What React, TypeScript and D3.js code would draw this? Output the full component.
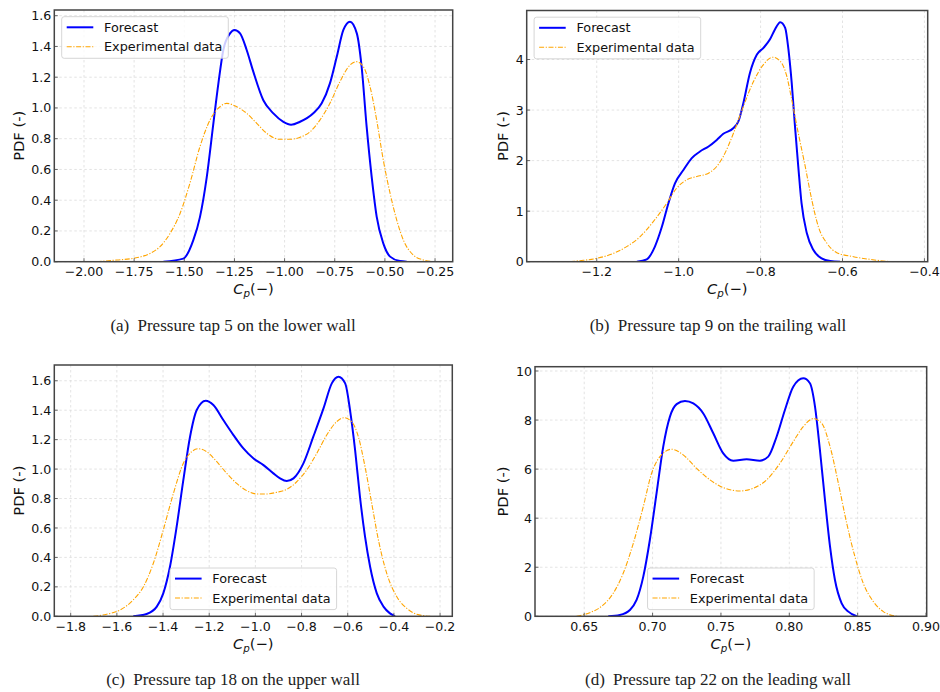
import React, { useEffect, useRef } from 'react';
import * as d3 from 'd3';

// ==== values: Cp on x, PDF on y

// (a) tap 5, lower wall
const tap5ForecastCp = [-1.604, -1.505, -1.455, -1.422, -1.388, -1.355, -1.33, -1.305, -1.272, -1.25, -1.222, -1.189, -1.156, -1.106, -1.056, -1.006, -0.968, -0.923, -0.857, -0.815, -0.774, -0.74, -0.707, -0.674, -0.64, -0.616, -0.591, -0.566, -0.541, -0.508, -0.474, -0.425, -0.391];
const tap5ForecastPdf = [0, 0.02, 0.14, 0.29, 0.55, 0.9, 1.16, 1.38, 1.485, 1.507, 1.485, 1.377, 1.236, 1.05, 0.965, 0.91, 0.891, 0.91, 0.965, 1.03, 1.16, 1.333, 1.507, 1.561, 1.485, 1.268, 0.878, 0.553, 0.293, 0.119, 0.033, 0.004, 0];
const tap5ExperimentCp = [-1.937, -1.837, -1.754, -1.671, -1.621, -1.571, -1.521, -1.472, -1.422, -1.372, -1.322, -1.289, -1.239, -1.189, -1.139, -1.089, -1.023, -0.973, -0.923, -0.873, -0.824, -0.774, -0.724, -0.674, -0.64, -0.607, -0.574, -0.541, -0.508, -0.474, -0.441, -0.408, -0.358, -0.308, -0.258];
const tap5ExperimentPdf = [0, 0.011, 0.022, 0.054, 0.098, 0.184, 0.314, 0.51, 0.748, 0.921, 1.008, 1.03, 1.008, 0.965, 0.9, 0.835, 0.796, 0.796, 0.809, 0.845, 0.921, 1.03, 1.171, 1.279, 1.301, 1.268, 1.138, 0.921, 0.661, 0.444, 0.271, 0.141, 0.043, 0.011, 0];

// (b) tap 9, trailing wall
const tap9ForecastCp = [-1.102, -1.078, -1.058, -1.041, -1.025, -1.009, -0.988, -0.968, -0.948, -0.927, -0.907, -0.891, -0.866, -0.854, -0.842, -0.826, -0.809, -0.793, -0.777, -0.765, -0.752, -0.74, -0.732, -0.724, -0.716, -0.708, -0.7, -0.687, -0.671, -0.651, -0.63, -0.606];
const tap9ForecastPdf = [0, 0.046, 0.3, 0.69, 1.157, 1.55, 1.818, 2.05, 2.18, 2.28, 2.41, 2.53, 2.645, 2.78, 3.14, 3.735, 4.1, 4.23, 4.4, 4.595, 4.74, 4.628, 4.2, 3.537, 2.678, 1.884, 1.157, 0.562, 0.231, 0.066, 0.013, 0];
const tap9ExperimentCp = [-1.265, -1.241, -1.2, -1.159, -1.127, -1.094, -1.062, -1.029, -1.005, -0.98, -0.956, -0.927, -0.907, -0.891, -0.866, -0.842, -0.817, -0.793, -0.77, -0.752, -0.736, -0.724, -0.708, -0.691, -0.675, -0.659, -0.638, -0.614, -0.573, -0.533, -0.484];
const tap9ExperimentPdf = [0, 0.02, 0.066, 0.165, 0.298, 0.496, 0.793, 1.157, 1.455, 1.62, 1.686, 1.752, 1.884, 2.083, 2.545, 3.074, 3.57, 3.9, 4.046, 3.967, 3.669, 3.207, 2.545, 1.884, 1.223, 0.694, 0.364, 0.179, 0.099, 0.046, 0];

// (c) tap 18, upper wall
const tap18ForecastCp = [-1.529, -1.471, -1.427, -1.399, -1.37, -1.341, -1.312, -1.283, -1.254, -1.215, -1.182, -1.139, -1.095, -1.052, -1.009, -0.965, -0.922, -0.893, -0.864, -0.835, -0.792, -0.749, -0.705, -0.669, -0.64, -0.611, -0.59, -0.568, -0.547, -0.525, -0.503, -0.474, -0.445, -0.417, -0.395];
const tap18ForecastPdf = [0, 0.016, 0.066, 0.156, 0.337, 0.609, 0.926, 1.22, 1.401, 1.464, 1.435, 1.333, 1.231, 1.14, 1.073, 1.027, 0.971, 0.937, 0.919, 0.937, 1.039, 1.22, 1.412, 1.582, 1.627, 1.582, 1.401, 1.129, 0.812, 0.541, 0.337, 0.156, 0.066, 0.02, 0];
const tap18ExperimentCp = [-1.702, -1.644, -1.586, -1.529, -1.485, -1.442, -1.399, -1.355, -1.312, -1.276, -1.247, -1.211, -1.167, -1.124, -1.081, -1.037, -0.994, -0.951, -0.908, -0.864, -0.821, -0.778, -0.734, -0.691, -0.648, -0.616, -0.583, -0.554, -0.525, -0.496, -0.467, -0.431, -0.388, -0.344, -0.301, -0.243];
const tap18ExperimentPdf = [0, 0.014, 0.043, 0.111, 0.201, 0.36, 0.586, 0.835, 1.039, 1.118, 1.138, 1.118, 1.05, 0.971, 0.903, 0.853, 0.831, 0.831, 0.842, 0.862, 0.914, 0.993, 1.107, 1.231, 1.322, 1.349, 1.322, 1.22, 1.016, 0.767, 0.518, 0.292, 0.134, 0.054, 0.014, 0];

// (d) tap 22, leading wall
const tap22ForecastCp = [0.6676, 0.6761, 0.6834, 0.6883, 0.6932, 0.698, 0.7029, 0.7078, 0.7127, 0.7176, 0.7237, 0.7298, 0.7371, 0.7444, 0.7517, 0.759, 0.7688, 0.7785, 0.7846, 0.7907, 0.7968, 0.8029, 0.8102, 0.8151, 0.8188, 0.8224, 0.8261, 0.8298, 0.8334, 0.8383, 0.8432, 0.8493];
const tap22ForecastPdf = [0, 0.054, 0.258, 0.666, 1.617, 3.11, 5.01, 6.92, 8.14, 8.65, 8.78, 8.68, 8.27, 7.46, 6.64, 6.345, 6.4, 6.345, 6.51, 7.32, 8.41, 9.36, 9.7, 9.5, 8.55, 6.78, 4.74, 2.84, 1.48, 0.53, 0.19, 0];
const tap22ExperimentCp = [0.6444, 0.6541, 0.6639, 0.6712, 0.6785, 0.6859, 0.6932, 0.6993, 0.7054, 0.7139, 0.7224, 0.7322, 0.742, 0.7517, 0.7639, 0.7737, 0.7834, 0.7932, 0.8029, 0.8102, 0.8176, 0.8237, 0.8298, 0.8359, 0.842, 0.848, 0.8541, 0.8615, 0.8688, 0.8785];
const tap22ExperimentPdf = [0, 0.149, 0.462, 0.9375, 1.753, 2.976, 4.47, 5.83, 6.51, 6.81, 6.58, 6.03, 5.56, 5.245, 5.11, 5.22, 5.56, 6.24, 7.12, 7.73, 8.06, 7.87, 6.92, 5.42, 3.79, 2.43, 1.345, 0.6, 0.19, 0];

// tick values
const tap5XTicks = [-2.0, -1.75, -1.5, -1.25, -1.0, -0.75, -0.5, -0.25];
const tap9XTicks = [-1.2, -1.0, -0.8, -0.6, -0.4];
const tap18XTicks = [-1.8, -1.6, -1.4, -1.2, -1.0, -0.8, -0.6, -0.4, -0.2];
const tap22XTicks = [0.65, 0.7, 0.75, 0.8, 0.85, 0.9];
const smallPdfTicks = [0, 0.2, 0.4, 0.6, 0.8, 1.0, 1.2, 1.4, 1.6];
const tap9PdfTicks = [0, 1, 2, 3, 4];
const tap22PdfTicks = [0, 2, 4, 6, 8, 10];

const seriesNames = ['Forecast', 'Experimental data'];

// ====

const FONT = 'DejaVu Sans, sans-serif';
const BLUE = '#0000ff';
const ORANGE = '#ffa500';
const SPINE = '#444444';

const panels = [
    {
        tag: '(a)', caption: 'Pressure tap 5 on the lower wall', captionX: 233, captionY: 331,
        box: [54.3, 10, 452.7, 261.7], xDomain: [-2.148, -0.162], yDomain: [0, 1.637],
        xTicks: tap5XTicks, xFmt: '.2f', yTicks: smallPdfTicks, yFmt: '.1f', legend: 'upper left',
        forecast: [tap5ForecastCp, tap5ForecastPdf], experiment: [tap5ExperimentCp, tap5ExperimentPdf],
    },
    {
        tag: '(b)', caption: 'Pressure tap 9 on the trailing wall', captionX: 718, captionY: 331,
        box: [526.7, 10.5, 927.7, 261.7], xDomain: [-1.371, -0.392], yDomain: [0, 4.97],
        xTicks: tap9XTicks, xFmt: '.1f', yTicks: tap9PdfTicks, yFmt: 'd', legend: 'upper left',
        forecast: [tap9ForecastCp, tap9ForecastPdf], experiment: [tap9ExperimentCp, tap9ExperimentPdf],
    },
    {
        tag: '(c)', caption: 'Pressure tap 18 on the upper wall', captionX: 233, captionY: 685,
        box: [54.3, 365, 452.3, 616.3], xDomain: [-1.871, -0.147], yDomain: [0, 1.707],
        xTicks: tap18XTicks, xFmt: '.1f', yTicks: smallPdfTicks, yFmt: '.1f', legend: 'lower center',
        forecast: [tap18ForecastCp, tap18ForecastPdf], experiment: [tap18ExperimentCp, tap18ExperimentPdf],
    },
    {
        tag: '(d)', caption: 'Pressure tap 22 on the leading wall', captionX: 718, captionY: 685,
        box: [535, 366.7, 926.7, 616.3], xDomain: [0.614, 0.9005], yDomain: [0, 10.175],
        xTicks: tap22XTicks, xFmt: '.2f', yTicks: tap22PdfTicks, yFmt: 'd', legend: 'lower center',
        forecast: [tap22ForecastCp, tap22ForecastPdf], experiment: [tap22ExperimentCp, tap22ExperimentPdf],
    },
];

const minus = (s) => s.replace('-', '\u2212');

function drawPanel(svg, p, i) {
    const [left, top, right, bottom] = p.box;
    const x = d3.scaleLinear().domain(p.xDomain).range([left, right]);
    const y = d3.scaleLinear().domain(p.yDomain).range([bottom, top]);
    const xf = d3.format(p.xFmt);
    const yf = d3.format(p.yFmt);

    const g = svg.append('g');

    // grid
    g.append('g').selectAll('line').data(p.xTicks).enter().append('line')
        .attr('x1', (d) => x(d)).attr('x2', (d) => x(d)).attr('y1', top).attr('y2', bottom)
        .attr('stroke', '#dcdcdc').attr('stroke-width', 0.8).attr('stroke-dasharray', '2.5,2.5');
    g.append('g').selectAll('line').data(p.yTicks).enter().append('line')
        .attr('x1', left).attr('x2', right).attr('y1', (d) => y(d)).attr('y2', (d) => y(d))
        .attr('stroke', '#dcdcdc').attr('stroke-width', 0.8).attr('stroke-dasharray', '2.5,2.5');

    // curves
    const clipId = 'clip' + i;
    g.append('clipPath').attr('id', clipId).append('rect')
        .attr('x', left).attr('y', top).attr('width', right - left).attr('height', bottom - top);

    const line = d3.line().x((d) => x(d[0])).y((d) => y(d[1])).curve(d3.curveMonotoneX);
    const pts = (pair) => pair[0].map((v, k) => [v, pair[1][k]]);

    g.append('path').attr('d', line(pts(p.forecast)))
        .attr('clip-path', `url(#${clipId})`)
        .attr('fill', 'none').attr('stroke', BLUE).attr('stroke-width', 2);
    g.append('path').attr('d', line(pts(p.experiment)))
        .attr('clip-path', `url(#${clipId})`)
        .attr('fill', 'none').attr('stroke', ORANGE).attr('stroke-width', 1.1)
        .attr('stroke-dasharray', '5,1.6,1.2,1.6');

    // ticks (inward) and labels
    g.append('g').selectAll('line').data(p.xTicks).enter().append('line')
        .attr('x1', (d) => x(d)).attr('x2', (d) => x(d)).attr('y1', bottom).attr('y2', bottom - 3.5)
        .attr('stroke', SPINE).attr('stroke-width', 0.8);
    g.append('g').selectAll('line').data(p.yTicks).enter().append('line')
        .attr('x1', left).attr('x2', left + 3.5).attr('y1', (d) => y(d)).attr('y2', (d) => y(d))
        .attr('stroke', SPINE).attr('stroke-width', 0.8);

    g.append('g').selectAll('text').data(p.xTicks).enter().append('text')
        .attr('x', (d) => x(d)).attr('y', bottom + 14.3)
        .attr('text-anchor', 'middle').attr('font-family', FONT).attr('font-size', 12.6).attr('fill', '#111')
        .text((d) => minus(xf(d)));
    const yLabels = g.append('g');
    yLabels.selectAll('text').data(p.yTicks).enter().append('text')
        .attr('x', left - 3).attr('y', (d) => y(d)).attr('dy', '0.36em')
        .attr('text-anchor', 'end').attr('font-family', FONT).attr('font-size', 12.6).attr('fill', '#111')
        .text((d) => yf(d));

    // spines
    g.append('rect').attr('x', left).attr('y', top).attr('width', right - left).attr('height', bottom - top)
        .attr('fill', 'none').attr('stroke', SPINE).attr('stroke-width', 1.5);

    // axis labels
    const tickLeft = yLabels.node().getBBox().x;
    g.append('text')
        .attr('transform', `translate(${tickLeft - 7.5},${(top + bottom) / 2}) rotate(-90)`)
        .attr('text-anchor', 'middle').attr('font-family', FONT).attr('font-size', 14.7).attr('fill', '#111')
        .text('PDF (-)');

    const xl = g.append('text')
        .attr('x', (left + right) / 2).attr('y', bottom + 32.5)
        .attr('text-anchor', 'middle').attr('font-family', FONT).attr('font-size', 14.7).attr('fill', '#111');
    xl.append('tspan').attr('font-style', 'italic').text('C');
    xl.append('tspan').attr('font-style', 'italic').attr('font-size', 10.3).attr('dy', 3).text('p');
    xl.append('tspan').attr('dy', -3).text('(\u2212)');

    // legend
    const lw = 166.6;
    const lh = 41.6;
    const lx = p.legend === 'upper left' ? left + 7.4 : (left + right) / 2 - lw / 2;
    const ly = p.legend === 'upper left' ? top + 6.7 : bottom - 6.7 - lh;
    const lg = g.append('g').attr('transform', `translate(${lx},${ly})`);
    lg.append('rect').attr('width', lw).attr('height', lh).attr('rx', 2.5)
        .attr('fill', 'white').attr('fill-opacity', 0.8)
        .attr('stroke', '#cccccc').attr('stroke-width', 0.8);
    seriesNames.forEach((name, k) => {
        const cy = 10.6 + k * 19.4;
        lg.append('line').attr('x1', 5).attr('x2', 31.6).attr('y1', cy).attr('y2', cy)
            .attr('stroke', k === 0 ? BLUE : ORANGE)
            .attr('stroke-width', k === 0 ? 2 : 1.1)
            .attr('stroke-dasharray', k === 0 ? null : '5,1.6,1.2,1.6');
        lg.append('text').attr('x', 42.3).attr('y', cy).attr('dy', '0.36em')
            .attr('font-family', FONT).attr('font-size', 12.8).attr('fill', '#111')
            .text(name);
    });

    // sub-caption
    const cap = svg.append('text')
        .attr('x', p.captionX).attr('y', p.captionY).attr('text-anchor', 'middle')
        .attr('font-family', 'Liberation Serif, Times New Roman, serif').attr('font-size', 17).attr('fill', '#222');
    cap.append('tspan').text(p.tag);
    cap.append('tspan').attr('dx', 4).text(' ' + p.caption);
}

export default function App() {
    const ref = useRef(null);

    useEffect(() => {
        const svg = d3.select(ref.current);
        svg.selectAll('*').remove();
        svg.append('rect').attr('width', 940).attr('height', 692).attr('fill', 'white');
        panels.forEach((p, i) => drawPanel(svg, p, i));
    }, []);

    return (
        <svg
            ref={ref}
            width={940}
            height={692}
            style={{ position: 'absolute', left: 0, top: 0, display: 'block' }}
        />
    );
}
